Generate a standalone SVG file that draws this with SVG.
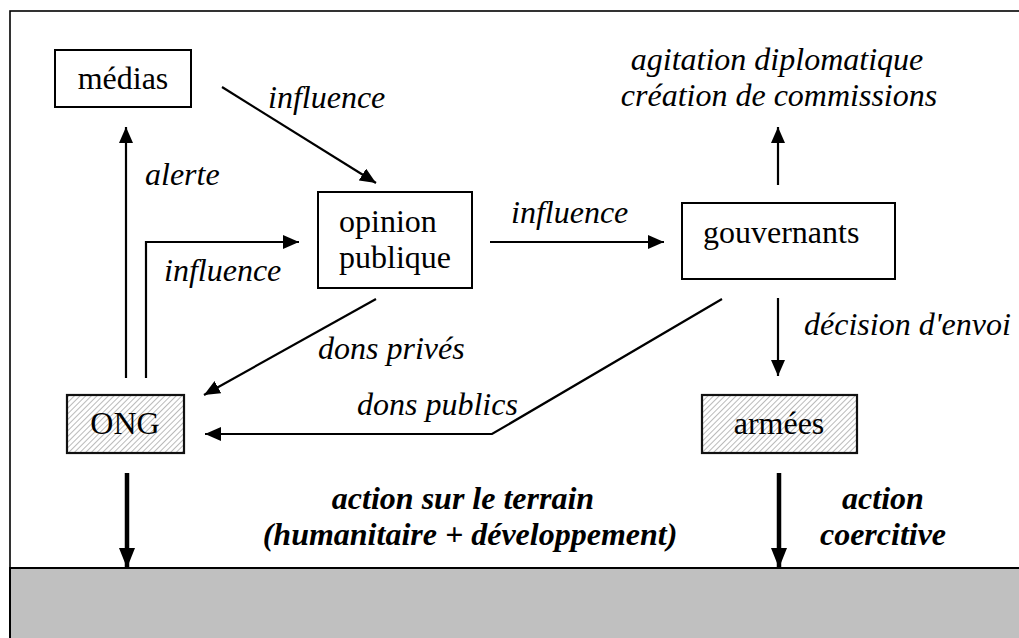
<svg xmlns="http://www.w3.org/2000/svg" width="1019" height="638" viewBox="0 0 1019 638">
<style>
text{font-family:'Liberation Serif','DejaVu Serif',serif;font-size:32px;fill:#000}
.it{font-style:italic}
.bi{font-style:italic;font-weight:bold}
.box{fill:#fff;stroke:#000;stroke-width:2}
.hbox{fill:url(#hatch);stroke:#111;stroke-width:2.2}
.ln{fill:none;stroke:#000;stroke-width:2.2}
.thick{fill:none;stroke:#000;stroke-width:4.5}
</style>
<defs>
<pattern id="hatch" patternUnits="userSpaceOnUse" width="4" height="4" patternTransform="rotate(45)">
<rect width="4" height="4" fill="#fff"/>
<line x1="0" y1="0" x2="0" y2="4" stroke="#a8a8a8" stroke-width="1.6"/>
</pattern>
<marker id="ah" markerUnits="userSpaceOnUse" markerWidth="16" markerHeight="14" refX="16" refY="7" orient="auto">
<path d="M0,0 L16,7 L0,14 z" fill="#000"/>
</marker>
<marker id="ahb" markerUnits="userSpaceOnUse" markerWidth="20" markerHeight="16" refX="20" refY="8" orient="auto">
<path d="M0,0 L20,8 L0,16 z" fill="#000"/>
</marker>
</defs>
<rect x="0" y="0" width="1019" height="638" fill="#fff"/>
<g id="frame">
<rect x="10" y="11" width="1030" height="660" fill="none" stroke="#000" stroke-width="1.6"/>
<rect x="10" y="568" width="1030" height="80" fill="#c0c0c0" stroke="#000" stroke-width="2"/>
</g>
<g id="connectors">
<line class="ln" x1="222" y1="87" x2="376" y2="183" marker-end="url(#ah)"/>
<line class="ln" x1="126" y1="378" x2="126" y2="127" marker-end="url(#ah)"/>
<polyline class="ln" points="146,378 146,242 299,242" marker-end="url(#ah)"/>
<line class="ln" x1="490" y1="242" x2="664" y2="242" marker-end="url(#ah)"/>
<line class="ln" x1="778" y1="185" x2="778" y2="127" marker-end="url(#ah)"/>
<line class="ln" x1="778" y1="298" x2="778" y2="376" marker-end="url(#ah)"/>
<line class="ln" x1="376" y1="299" x2="204" y2="395" marker-end="url(#ah)"/>
<polyline class="ln" points="722,299 492,434 205,434" marker-end="url(#ah)"/>
<line class="thick" x1="127" y1="473" x2="127" y2="568" marker-end="url(#ahb)"/>
<line class="thick" x1="779" y1="473" x2="779" y2="568" marker-end="url(#ahb)"/>
</g>
<g font-family="Liberation Serif, DejaVu Serif, serif">
<g id="medias">
<rect class="box" x="55" y="50" width="136" height="57"/>
<text x="123" y="89" text-anchor="middle">médias</text>
</g>
<g id="opinion">
<rect class="box" x="318" y="192" width="154" height="96"/>
<text x="339" y="232">opinion</text>
<text x="339" y="268">publique</text>
</g>
<g id="gouvernants">
<rect class="box" x="682" y="203" width="213" height="76"/>
<text x="703" y="243">gouvernants</text>
</g>
<g id="ong">
<rect class="hbox" x="67" y="395" width="117" height="58"/>
<text x="125" y="434" text-anchor="middle">ONG</text>
</g>
<g id="armees">
<rect class="hbox" x="702" y="395" width="155" height="58"/>
<text x="779" y="434" text-anchor="middle">armées</text>
</g>
<g id="labels">
<text class="it" x="268" y="108">influence</text>
<text class="it" x="145" y="185">alerte</text>
<text class="it" x="164" y="281">influence</text>
<text class="it" x="511" y="223">influence</text>
<text class="it" x="777" y="70" text-anchor="middle">agitation diplomatique</text>
<text class="it" x="779" y="106" text-anchor="middle">création de commissions</text>
<text class="it" x="804" y="335">décision d'envoi</text>
<text class="it" x="318" y="359">dons privés</text>
<text class="it" x="357" y="415">dons publics</text>
<text class="bi" x="463" y="509" text-anchor="middle">action sur le terrain</text>
<text class="bi" x="470" y="545" text-anchor="middle">(humanitaire + développement)</text>
<text class="bi" x="883" y="509" text-anchor="middle">action</text>
<text class="bi" x="883" y="545" text-anchor="middle">coercitive</text>
</g>
</g>
</svg>
